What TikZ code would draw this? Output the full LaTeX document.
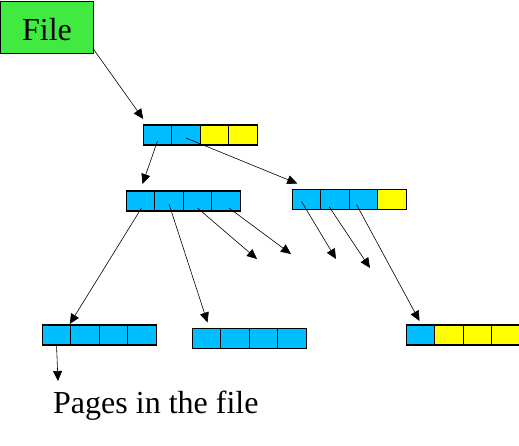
\documentclass[tikz,border=0pt]{standalone}
\usepackage{fontspec}
\setmainfont{Liberation Serif}
\newfontfamily\labelfont{Liberation Serif}
\usepackage{tikz}
\usetikzlibrary{arrows.meta,positioning,calc}

\definecolor{pageblue}{RGB}{0,190,255}
\definecolor{pageyellow}{RGB}{255,255,0}
\definecolor{filegreen}{RGB}{64,234,64}

\tikzset{
    cell/.style={draw, line width=1.2pt, minimum width=28.5pt, minimum height=20pt, inner sep=0pt, outer sep=0pt},
    bcell/.style={cell, fill=pageblue},
    ycell/.style={cell, fill=pageyellow},
    ptr/.style={-{Triangle[length=10pt,width=9pt]}, line width=0.6pt},
    bigtext/.style={font=\labelfont\fontsize{32}{36}\selectfont},
}

\begin{document}
\begin{tikzpicture}[x=1pt, y=-1pt]
    \useasboundingbox (0,0) rectangle (519,445);
    % the file
    \node [draw, fill=filegreen, line width=0.8pt, minimum width=93pt, minimum height=52pt, inner sep=0pt] (file) at (47,27) {};
    \node [bigtext, anchor=base, inner sep=0pt] (filetext) at (47,40) {File};
    % root page
    \node [bcell] (root1) at (157.5,135) {};
    \node [bcell, right=0pt of root1] (root2) {};
    \node [ycell, right=0pt of root2] (root3) {};
    \node [ycell, right=0pt of root3] (root4) {};
    % second level
    \node [bcell] (midL1) at (140.5,201) {};
    \node [bcell, right=0pt of midL1] (midL2) {};
    \node [bcell, right=0pt of midL2] (midL3) {};
    \node [bcell, right=0pt of midL3] (midL4) {};
    \node [bcell] (midR1) at (306.5,199.5) {};
    \node [bcell, right=0pt of midR1] (midR2) {};
    \node [bcell, right=0pt of midR2] (midR3) {};
    \node [ycell, right=0pt of midR3] (midR4) {};
    % leaf pages
    \node [bcell] (leafL1) at (56.5,335) {};
    \node [bcell, right=0pt of leafL1] (leafL2) {};
    \node [bcell, right=0pt of leafL2] (leafL3) {};
    \node [bcell, right=0pt of leafL3] (leafL4) {};
    \node [bcell] (leafM1) at (206.5,338.5) {};
    \node [bcell, right=0pt of leafM1] (leafM2) {};
    \node [bcell, right=0pt of leafM2] (leafM3) {};
    \node [bcell, right=0pt of leafM3] (leafM4) {};
    \node [bcell] (leafR1) at (420.5,335) {};
    \node [ycell, right=0pt of leafR1] (leafR2) {};
    \node [ycell, right=0pt of leafR2] (leafR3) {};
    \node [ycell, right=0pt of leafR3] (leafR4) {};
    % loose ends
    \coordinate (endA) at (257,259);
    \coordinate (endB) at (291,254);
    \coordinate (endC) at (336,259);
    \coordinate (endD) at (370,268);
    \coordinate (endE) at (58,381);
    \node [bigtext, anchor=base west, inner sep=0pt] (caption) at (53,413) {Pages in the file};
    % pointers
    \draw [ptr] ($(file.south east)+(-1,-5)$) -- ($(root1.north west)+(0,-6)$);
    \draw [ptr] ($(root1.center)+(0,6)$) -- ($(midL1.north)+(2,-7)$);
    \draw [ptr] ($(root2.center)+(0,3)$) -- ($(midR1.north west)+(5,-6)$);
    \draw [ptr] ($(midL1.center)+(1,7)$) -- ($(leafL1.north east)+(-1,-1)$);
    \draw [ptr] ($(midL2.center)+(0,3)$) -- ($(leafM1.north)+(1,-6)$);
    \draw [ptr] ($(midL3.center)+(0,7)$) -- (endA);
    \draw [ptr] ($(midL4.center)+(3,7)$) -- (endB);
    \draw [ptr] ($(midR1.center)+(-5,2)$) -- (endC);
    \draw [ptr] ($(midR2.center)+(-6,7)$) -- (endD);
    \draw [ptr] ($(midR3.center)+(-7,5)$) -- ($(leafR1.north)+(-1,-4)$);
    \draw [ptr] (leafL1.south) -- (endE);
\end{tikzpicture}
\end{document}
